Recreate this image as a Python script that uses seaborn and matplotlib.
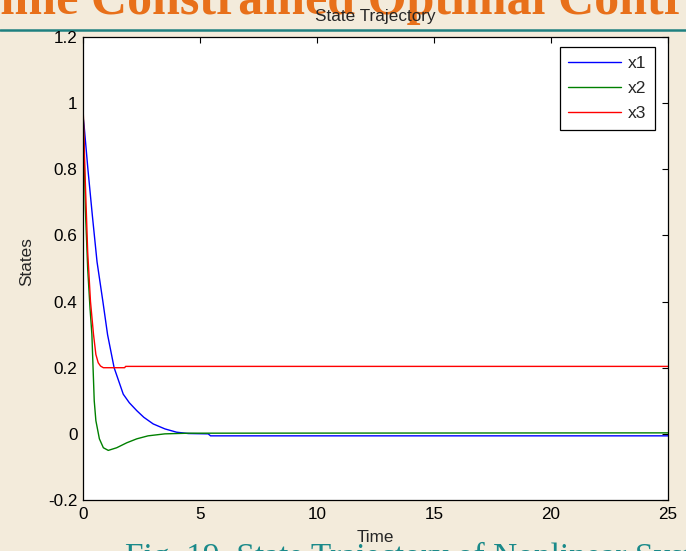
import numpy as np
import pandas as pd
import matplotlib
matplotlib.use("Agg")
import matplotlib.pyplot as plt
import seaborn as sns
from matplotlib.lines import Line2D

# ---- data ----
t_x1 = [0, 0.05, 0.21, 0.4, 0.6, 0.85, 1.05, 1.33, 1.72, 1.98, 2.3, 2.6, 3.0, 3.5, 4.0, 4.5, 5.35, 5.45, 25]
x1 = [0.96, 0.93, 0.8, 0.66, 0.52, 0.4, 0.3, 0.2, 0.12, 0.094, 0.07, 0.05, 0.03, 0.015, 0.005, 0.001, 0.0, -0.006, -0.006]

t_x2 = [0, 0.05, 0.1, 0.2, 0.3, 0.38, 0.48, 0.55, 0.61, 0.7, 0.87, 1.08, 1.44, 1.87, 2.3, 2.78, 3.5, 4.5, 25]
x2 = [1.0, 0.85, 0.68, 0.5, 0.38, 0.3, 0.1, 0.04, 0.018, -0.015, -0.042, -0.05, -0.042, -0.027, -0.015, -0.006, 0.0, 0.002, 0.003]

t_x3 = [0, 0.08, 0.2, 0.32, 0.45, 0.55, 0.65, 0.75, 0.87, 1.78, 1.82, 25]
x3 = [1.0, 0.8, 0.55, 0.4, 0.3, 0.24, 0.215, 0.205, 0.2, 0.2, 0.204, 0.204]

series_names = ["x1", "x2", "x3"]
series_colors = ["#0000FF", "#008000", "#FF0000"]

x_ticks = [0, 5, 10, 15, 20, 25]
y_ticks = [-0.2, 0, 0.2, 0.4, 0.6, 0.8, 1, 1.2]
y_tick_labels = ["-0.2", "0", "0.2", "0.4", "0.6", "0.8", "1", "1.2"]

df = pd.concat([
    pd.DataFrame({"Time": t_x1, "States": x1, "series": "x1"}),
    pd.DataFrame({"Time": t_x2, "States": x2, "series": "x2"}),
    pd.DataFrame({"Time": t_x3, "States": x3, "series": "x3"}),
], ignore_index=True)

sns.set_style("white")
plt.rcParams["font.family"] = ["Liberation Sans", "DejaVu Sans"]

FS = 12.3
bg = "#F3EBDB"
fig = plt.figure(figsize=(6.86, 5.51), dpi=100, facecolor=bg)

# slide decorations behind the chart
fig.text(-32 / 686, 1 - 14 / 551, "Time Constrained Optimal Control", ha="left", va="baseline",
         fontsize=36, fontweight="bold", color="#E8701A", family=["Liberation Serif", "DejaVu Serif"],
         zorder=0)
fig.add_artist(Line2D([0, 1], [1 - 29.5 / 551, 1 - 29.5 / 551], transform=fig.transFigure,
                      color="#1E8080", lw=1.8, zorder=0))
fig.text(125 / 686, 1 - 566 / 551, "Fig. 19  State Trajectory of Nonlinear System", ha="left",
         va="baseline", fontsize=24, color="#1A8A8A", family=["Liberation Serif", "DejaVu Serif"],
         zorder=0)

ax = fig.add_axes([83 / 686, 1 - 500 / 551, 585 / 686, 463 / 551])
ax.set_facecolor("white")

sns.lineplot(data=df, x="Time", y="States", hue="series", palette=series_colors,
             estimator=None, sort=False, linewidth=1.0, ax=ax, legend=False)

ax.set_xlim(0, 25)
ax.set_ylim(-0.2, 1.2)
ax.set_xticks(x_ticks)
ax.set_xticklabels([str(v) for v in x_ticks])
ax.set_yticks(y_ticks)
ax.set_yticklabels(y_tick_labels)
ax.set_xlabel("")
ax.set_ylabel("")
ax.tick_params(direction="in", length=4, width=0.8, top=True, right=True,
               labelsize=FS, colors="black")
ax.tick_params(axis="y", pad=4)
ax.tick_params(axis="x", pad=5)
for s in ax.spines.values():
    s.set_color("black")
    s.set_linewidth(0.9)

handles = [Line2D([], [], color=c, lw=1.0) for c in series_colors]
leg = ax.legend(handles, series_names, loc="upper right", bbox_to_anchor=(0.978, 0.978),
                borderaxespad=0, frameon=True, fancybox=False, framealpha=1,
                edgecolor="black", fontsize=FS + 0.3, handlelength=3.0, labelspacing=0.56,
                handletextpad=0.4, borderpad=0.5)
leg.get_frame().set_linewidth(0.9)

# labels placed as in the reference
fig.text(375 / 686, 1 - 17 / 551, "State Trajectory", ha="center", va="center", fontsize=FS, zorder=5)
fig.text(375 / 686, 1 - 538 / 551, "Time", ha="center", va="center", fontsize=FS, zorder=5)
fig.text(27 / 686, 1 - 262 / 551, "States", ha="center", va="center", rotation=90, fontsize=FS)

fig.savefig("out.png", dpi=100, facecolor=bg)
